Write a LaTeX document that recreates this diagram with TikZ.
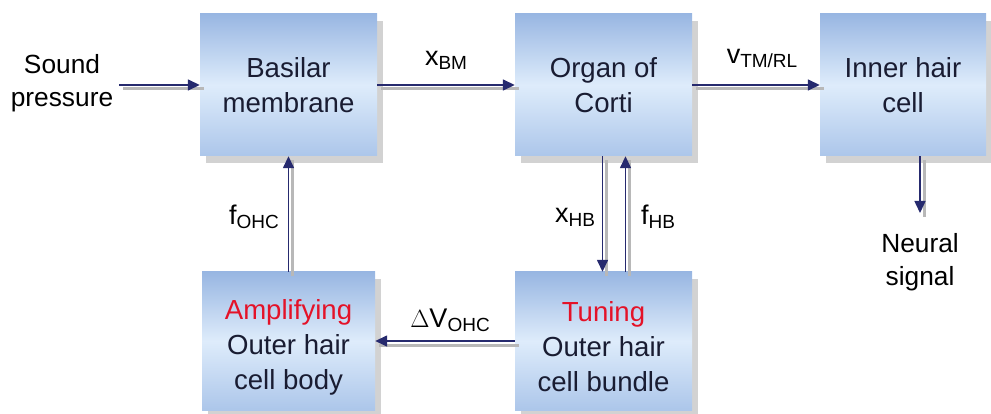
\documentclass[tikz,border=0pt]{standalone}
\usepackage{fontspec}
\setmainfont{Liberation Sans}
\usetikzlibrary{shadows,arrows.meta}
\definecolor{boxtop}{RGB}{152,182,226}
\definecolor{boxmid}{RGB}{222,236,251}
\definecolor{boxbot}{RGB}{172,198,234}
\definecolor{navy}{RGB}{38,42,110}
\definecolor{txtdark}{RGB}{25,28,50}
\definecolor{redtxt}{RGB}{228,18,40}
\newcommand{\lowtxt}[1]{\raisebox{-4pt}{\fontsize{19}{19}\selectfont #1}}
\tikzset{
  boxtext/.style={align=center, text=txtdark, inner sep=0pt, font=\fontsize{27.6}{35}\selectfont},
  blockbox/.style={rectangle, minimum width=177pt, minimum height=142pt, inner sep=0pt,
    top color=boxtop, bottom color=boxbot, middle color=boxmid,
    drop shadow={shadow xshift=6pt, shadow yshift=-7pt, fill=black!35, opacity=0.5},
    boxtext},
  plaintext/.style={align=center, inner sep=0pt, text=black, font=\fontsize{26.3}{33}\selectfont},
  lbl/.style={inner sep=0pt, text=black, font=\fontsize{27}{30}\selectfont},
  arr/.style={draw=navy, line width=1.5pt, -{Triangle[length=12pt,width=11pt]},
    preaction={draw=black!28, line width=3pt, -, transform canvas={xshift=4pt,yshift=-4pt}}},
}
\begin{document}
\begin{tikzpicture}[x=1pt,y=-1pt]
\useasboundingbox (0,0) rectangle (991,414);
% blocks
\node[blockbox] (bm) at (288.5,85) {Basilar\\membrane};
\node[blockbox] (oc) at (603.5,85) {Organ of\\Corti};
\node[blockbox, minimum width=166pt] (ihc) at (903,85) {Inner hair\\cell};
\node[blockbox, minimum width=173pt, minimum height=138pt,
  label={[boxtext, name=amptext, yshift=-6pt]center:{\textcolor{redtxt}{Amplifying}\\Outer hair\\cell body}}] (amp) at (288.5,341) {};
\node[blockbox, minimum height=138pt,
  label={[boxtext, name=tuntext, yshift=-6pt]center:{\textcolor{redtxt}{Tuning}\\Outer hair\\cell bundle}}] (tun) at (603.5,341) {};
% free texts
\node[plaintext] (sp) at (62,83) {Sound\\pressure};
\node[plaintext] (ns) at (920,262) {Neural\\signal};
% labels
\node[lbl] (lxbm) at (446,60) {x\lowtxt{BM}};
\node[lbl] (lvtm) at (762,58) {v\lowtxt{TM/RL}};
\node[lbl] (lfohc) at (254,217) {f\lowtxt{OHC}};
\node[lbl] (lxhb) at (575,217) {x\lowtxt{HB}};
\node[lbl] (lfhb) at (658,217) {f\lowtxt{HB}};
\node[lbl] (ldv) at (450,320) {$\Delta$V\lowtxt{OHC}};
% connectors
\draw[arr, shorten <=6pt] (sp.east |- bm.west) -- (bm.west);
\draw[arr] (bm.east) -- (oc.west);
\draw[arr] (oc.east) -- (ihc.west);
\coordinate (nsin) at ([xshift=17pt]ihc.south);
\coordinate (nsend) at (920,213);
\draw[arr] (nsin) -- (nsend);
\draw[arr] (amp.north) -- (bm.south);
\draw[arr] ([xshift=-1pt]oc.south) -- ([xshift=-1pt]tun.north);
\draw[arr] ([xshift=22pt]tun.north) -- ([xshift=22pt]oc.south);
\draw[arr] (tun.west) -- (amp.east);
\end{tikzpicture}
\end{document}
